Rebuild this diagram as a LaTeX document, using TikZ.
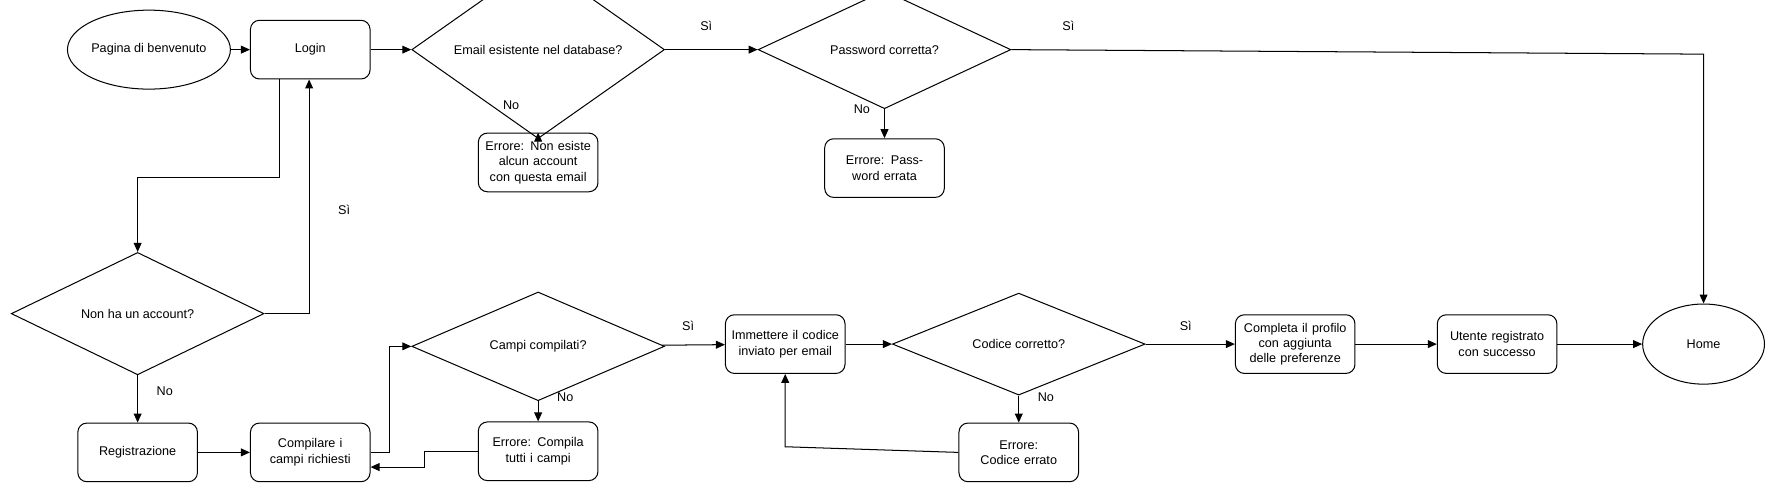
\documentclass[tikz,border=0pt]{standalone}
\usepackage{fontspec}
\setmainfont{Liberation Sans}
\usetikzlibrary{shapes.geometric,arrows.meta}
\begin{document}
\begin{tikzpicture}[x=0.5pt,y=-0.5pt,
  every node/.style={font=\fontsize{5.6}{6.8}\selectfont},
  box/.style={draw,rounded corners=4pt,minimum width=53pt,minimum height=26pt,align=center,text width=50pt,inner sep=1pt},
  dia/.style={draw,diamond,minimum width=112pt,minimum height=35pt,inner sep=0pt,align=center},
  ell/.style={draw,ellipse,inner sep=0pt},
  lbl/.style={font=\fontsize{5.6}{6.8}\selectfont},
  arr/.style={-{Triangle[length=4pt,width=3.5pt]},line width=0.45pt},
  line width=0.45pt]
\useasboundingbox (0,0) rectangle (1568,437);
\node[ell,minimum width=51pt,minimum height=35pt] (pag) at (132,44) {Pagina di benvenuto};
\node[box] (login) at (275,44) {Login};
\node[dia] (email) at (477,44) {Email esistente nel database?};
\node[dia] (pwd) at (784,44) {Password corretta?};
\node[box] (err1) at (477,144) {Errore: Non esiste alcun account con questa email};
\node[box] (err2) at (784,149) {Errore: Password errata};
\node[dia] (nonha) at (122,278) {Non ha un account?};
\node[box] (reg) at (122,401) {Registrazione};
\node[box] (comp) at (275,401) {Compilare i campi richiesti};
\node[dia] (campi) at (477,307) {Campi compilati?};
\node[box] (err3) at (477,400) {Errore: Compila tutti i campi};
\node[box] (imm) at (696,305) {Immettere il codice inviato per email};
\node[dia] (cod) at (903,305) {Codice corretto?};
\node[box] (err4) at (903,401) {Errore: Codice errato};
\node[box] (prof) at (1148,305) {Completa il profilo con aggiunta delle preferenze};
\node[box] (ut) at (1327,305) {Utente registrato con successo};
\node[ell,minimum width=54pt,minimum height=35.5pt] (home) at (1510,305) {Home};

\draw[arr] (pag) -- (login);
\draw[arr] (login) -- (email);
\draw[arr] (email) -- (pwd);
\draw[arr] (email) -- (err1);
\draw[arr] (pwd) -- (err2);
\draw[arr] (pwd.east) -- (1510,48) -- (home.north);
\draw[arr] (login.south -| 248,0) -- (248,157) -- (122,157) -- (nonha.north);
\draw[arr] (nonha.east) -- (274,278) -- (login.south -| 274,0);
\draw[arr] (nonha) -- (reg);
\draw[arr] (reg) -- (comp);
\draw[arr] (comp.east) -- (345,401) -- (345,307) -- (campi.west);
\draw[arr] (campi) -- (err3);
\draw[arr] (err3.west) -- (376,400) -- (376,414) -- (comp.east |- 0,414);
\draw[arr] (campi) -- (imm);
\draw[arr] (imm) -- (cod);
\draw[arr] (cod) -- (err4);
\draw[arr] (err4.west) -- (696,396) -- (imm.south);
\draw[arr] (cod) -- (prof);
\draw[arr] (prof) -- (ut);
\draw[arr] (ut) -- (home);

\node[lbl] (s1) at (626,23) {Sì};
\node[lbl] (s2) at (947,23) {Sì};
\node[lbl] (n1) at (453,93) {No};
\node[lbl] (n2) at (764,97) {No};
\node[lbl] (s3) at (305,186) {Sì};
\node[lbl] (n3) at (146,347) {No};
\node[lbl] (n4) at (501,352) {No};
\node[lbl] (s4) at (610,289) {Sì};
\node[lbl] (s5) at (1051,289) {Sì};
\node[lbl] (n5) at (927,352) {No};
\end{tikzpicture}
\end{document}
